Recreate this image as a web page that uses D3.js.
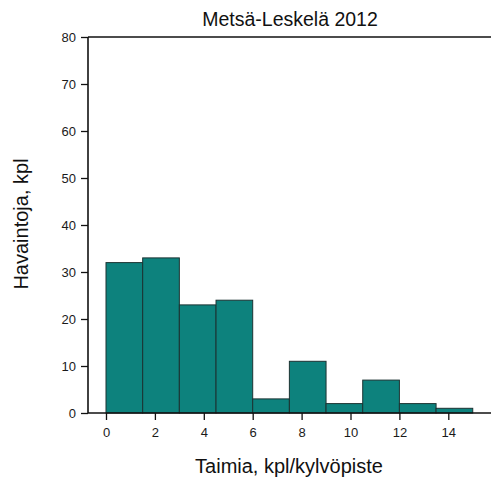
<!DOCTYPE html>
<html><head><meta charset="utf-8">
<script src="https://cdn.jsdelivr.net/npm/d3@7"></script>
<style>body{margin:0;background:#fff}text{font-family:"Liberation Sans",Arial,sans-serif}</style>
</head><body><svg id="c" width="491" height="481"></svg>
<script>
const binStarts = [0, 1.5, 3, 4.5, 6, 7.5, 9, 10.5, 12, 13.5];
const binWidth = 1.5;
const counts = [32, 33, 23, 24, 3, 11, 2, 7, 2, 1];
const xTicks = [0, 2, 4, 6, 8, 10, 12, 14];
const yTicks = [0, 10, 20, 30, 40, 50, 60, 70, 80];
const title = "Metsä-Leskelä 2012";
const xLabel = "Taimia, kpl/kylvöpiste";
const yLabel = "Havaintoja, kpl";

const svg = d3.select("#c");
const mLeft = 88, mRight = 491, mTop = 37, mBottom = 413;
const x = d3.scaleLinear().domain([0, 14]).range([106, 448.3]);
const y = d3.scaleLinear().domain([0, 80]).range([mBottom, mTop]);

svg.selectAll("rect.bar").data(binStarts).join("rect")
  .attr("class","bar")
  .attr("x", d => x(d))
  .attr("width", d => x(d + binWidth) - x(d))
  .attr("y", (d,i) => y(counts[i]))
  .attr("height", (d,i) => y(0) - y(counts[i]))
  .attr("fill", "#0d827d")
  .attr("stroke", "#1c3332")
  .attr("stroke-width", 1);

svg.append("line").attr("x1", mLeft).attr("x2", mRight).attr("y1", mTop).attr("y2", mTop).attr("stroke","#111").attr("stroke-width",1.6);

const yAxis = svg.append("g").attr("transform", `translate(${mLeft},0)`)
  .call(d3.axisLeft(y).tickValues(yTicks).tickSize(7).tickPadding(5));
yAxis.select(".domain").attr("d", `M0,${mTop}V${mBottom}`).attr("stroke","#111").attr("stroke-width",1.6);
yAxis.selectAll(".tick line").attr("stroke","#111").attr("stroke-width",1.3);
yAxis.selectAll("text").attr("font-size", 13).attr("fill","#1a1a1a");

const xAxis = svg.append("g").attr("transform", `translate(0,${mBottom})`)
  .call(d3.axisBottom(x).tickValues(xTicks).tickSize(7).tickPadding(8));
xAxis.select(".domain").attr("d", `M${mLeft},0H${mRight}`).attr("stroke","#111").attr("stroke-width",1.6);
xAxis.selectAll(".tick line").attr("stroke","#111").attr("stroke-width",1.3);
xAxis.selectAll("text").attr("font-size", 13).attr("fill","#1a1a1a");

svg.append("text").attr("x", 290).attr("y", 26).attr("text-anchor","middle")
  .attr("font-size", 19.5).attr("fill","#111").text(title);
svg.append("text").attr("x", 289).attr("y", 473).attr("text-anchor","middle")
  .attr("font-size", 20).attr("fill","#111").text(xLabel);
svg.append("text").attr("transform", "translate(28,224) rotate(-90)").attr("text-anchor","middle")
  .attr("font-size", 20).attr("fill","#111").text(yLabel);
</script></body></html>
